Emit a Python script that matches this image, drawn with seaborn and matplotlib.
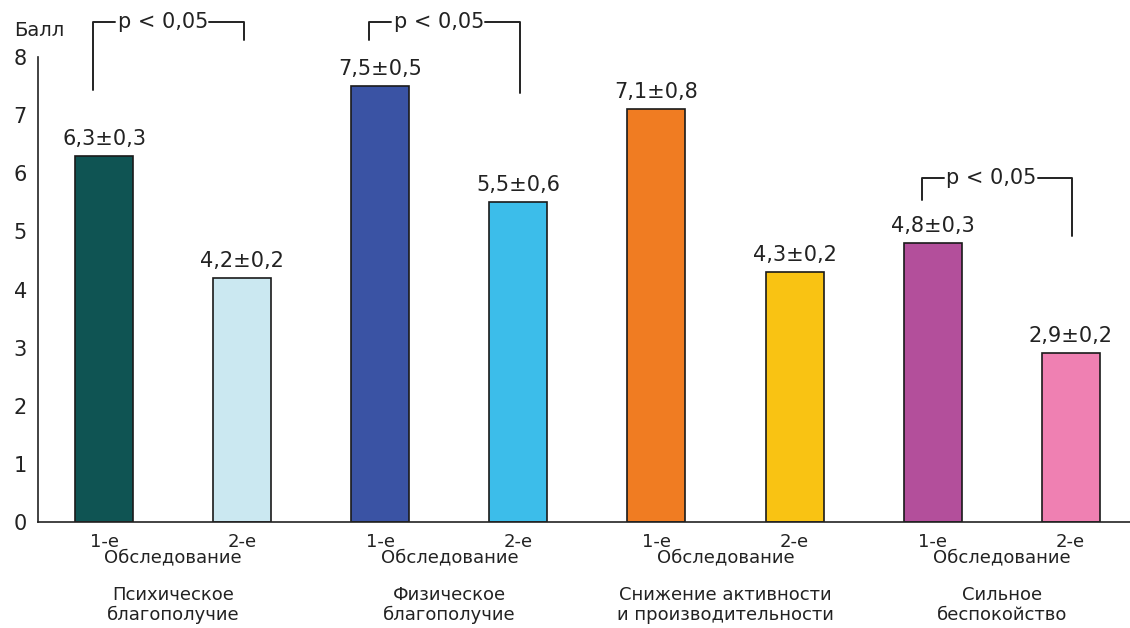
import numpy as np
import pandas as pd
import seaborn as sns
import matplotlib.pyplot as plt
from matplotlib.transforms import blended_transform_factory

sns.set_theme(style="white")
plt.rcParams['font.family'] = ['DejaVu Sans']

# data
bars = ['b1', 'b2', 'b3', 'b4', 'b5', 'b6', 'b7', 'b8']
values = [6.3, 4.2, 7.5, 5.5, 7.1, 4.3, 4.8, 2.9]
errors = [0.3, 0.2, 0.5, 0.6, 0.8, 0.2, 0.3, 0.2]
visit_labels = ['1-е', '2-е', '1-е', '2-е', '1-е', '2-е', '1-е', '2-е']
groups = ['Психическое\nблагополучие', 'Физическое\nблагополучие',
          'Снижение активности\nи производительности', 'Сильное\nбеспокойство']
colors = ['#0f5453', '#cbe8f1', '#3a53a4', '#3cbdea',
          '#f07c22', '#f9c313', '#b34f9b', '#ef80b2']
# brackets: (left bar, right bar, top, left leg bottom, right leg bottom)
brackets = [(0, 1, 8.6, 7.43, 8.3), (2, 3, 8.6, 8.3, 7.38), (6, 7, 5.92, 5.54, 4.92)]

df = pd.DataFrame({'bar': bars, 'value': values})

fig = plt.figure(figsize=(11.3, 6.28), dpi=100)
ax = fig.add_axes([38 / 1130, 0.169, 1 - 38 / 1130, 0.740])

sns.barplot(data=df, x='bar', y='value', hue='bar', palette=colors, width=0.42,
            saturation=1, edgecolor='#1a1a1a', linewidth=1.2, legend=False, ax=ax)

ax.set_ylim(0, 8)
ax.set_xlim(-0.48, 7.43)
ax.set_yticks(range(0, 9))
ax.tick_params(axis='y', labelsize=15, length=6, width=1.2, direction='out', colors='#222222', pad=2)
ax.set_xticks(range(len(bars)))
ax.set_xticklabels(visit_labels, fontsize=13)
ax.tick_params(axis='x', length=0, pad=8, colors='#222222')
ax.set_xticks(np.arange(0.5, 7, 1), minor=True)
ax.tick_params(axis='x', which='minor', length=6, width=1.2, direction='out', color='#222222')
ax.set_xlabel('')
ax.set_ylabel('')
for s in ['top', 'right']:
    ax.spines[s].set_visible(False)
for s in ['left', 'bottom']:
    ax.spines[s].set_color('#222222')
    ax.spines[s].set_linewidth(1.2)

fig.text(14 / 1130, 1 - 30 / 628, 'Балл', fontsize=14, ha='left', va='center', color='#222222')

for i, (v, e) in enumerate(zip(values, errors)):
    ax.text(i, v + 0.12, f'{v:.1f}±{e:.1f}'.replace('.', ','), ha='center', va='bottom',
            fontsize=15, color='#222222')

trans = blended_transform_factory(ax.transData, ax.transAxes)
for k, g in enumerate(groups):
    c = 2 * k + 0.5
    ax.text(c, -0.058, 'Обследование', transform=trans, ha='center', va='top', fontsize=13, color='#222222')
    ax.text(c, -0.138, g, transform=trans, ha='center', va='top', fontsize=13,
            color='#222222', linespacing=1.15)

for a, b, top, la, lb in brackets:
    xa, xb = a - 0.08, b + 0.01
    ax.plot([xa, xa, xa + 0.16], [la, top, top], color='#222222', lw=1.4, clip_on=False)
    ax.plot([xb - 0.25, xb, xb], [top, top, lb], color='#222222', lw=1.4, clip_on=False)
    ax.text((xa + xb) / 2 - 0.04, top, 'p < 0,05', ha='center', va='center', fontsize=15,
            color='#222222', clip_on=False)

fig.savefig('out.png', dpi=100)
